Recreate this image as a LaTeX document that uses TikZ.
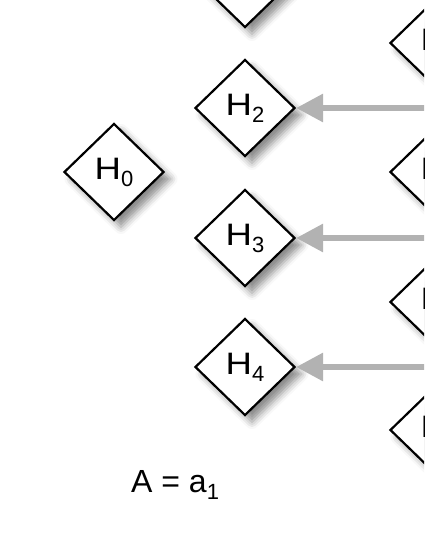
\documentclass[tikz,border=0pt]{standalone}
\usepackage{fontspec}
\setmainfont{Liberation Sans}
\usetikzlibrary{shapes.geometric,arrows.meta,shadows.blur}
\newcommand\subs[1]{\raisebox{-7pt}{\fontsize{22}{22}\selectfont #1}}
\newcommand\hh{\scalebox{1.18}[1]{H}}
\tikzset{
  hnode/.style={shape=diamond, draw=black, line width=2.2pt, fill=white,
    minimum width=100pt, minimum height=97pt, inner sep=0pt, aspect=1,
    font=\fontsize{31}{31}\selectfont,
    blur shadow={shadow xshift=7pt, shadow yshift=-7pt, shadow blur radius=7pt, shadow opacity=45}},
  feed/.style={draw={rgb,255:red,178;green,178;blue,178}, line width=6pt,
    -{Triangle[length=27pt,width=27pt]}}
}
\begin{document}
\begin{tikzpicture}[x=1pt,y=-1pt]
\useasboundingbox (0,0) rectangle (424,548);
\clip (0,0) rectangle (424,548);
\node[hnode] (h1) at (245,-21) {};
\node[hnode] (h2) at (245,108) {\hh\subs{2}};
\node[hnode] (h3) at (245,238) {\hh\subs{3}};
\node[hnode] (h4) at (245,367) {\hh\subs{4}};
\node[hnode] (h0) at (114,172) {\hh\subs{0}};
\node[hnode] (r1) at (440,43) {\hh\phantom{\subs{0}}};
\node[hnode] (r2) at (440,172) {\hh\phantom{\subs{0}}};
\node[hnode] (r3) at (440,302) {\hh\phantom{\subs{0}}};
\node[hnode] (r4) at (440,430) {\hh\phantom{\subs{0}}};
\coordinate (s2) at (480,108);
\coordinate (s3) at (480,238);
\coordinate (s4) at (480,367);
\draw[feed] (s2) -- (h2.east);
\draw[feed] (s3) -- (h3.east);
\draw[feed] (s4) -- (h4.east);
\node[font=\fontsize{32}{32}\selectfont, anchor=base west, inner sep=0pt] (eq) at (131,492) {A = a\subs{1}};
\end{tikzpicture}
\end{document}
